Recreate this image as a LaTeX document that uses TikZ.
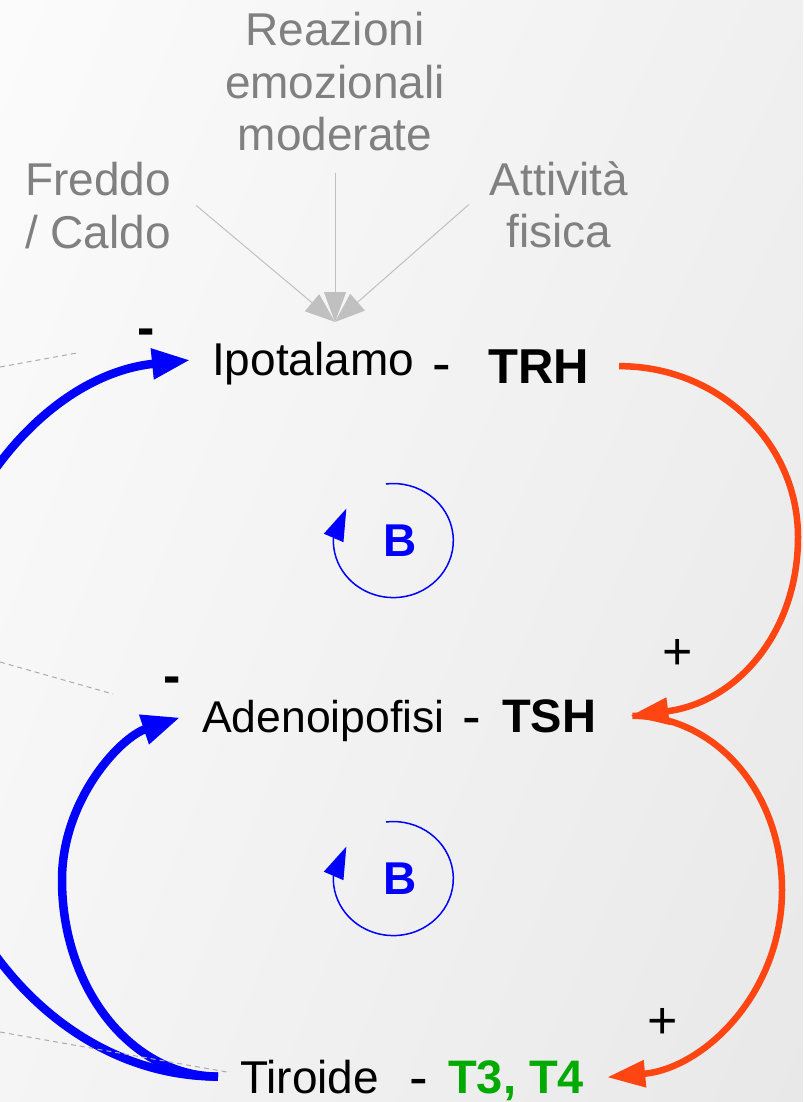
\documentclass[tikz,border=0pt]{standalone}
\usepackage{fontspec}
\setmainfont{Liberation Sans}
\usetikzlibrary{arrows.meta,shadings}

\definecolor{negblue}{RGB}{0,0,255}
\definecolor{posred}{RGB}{255,69,17}
\definecolor{hormgreen}{RGB}{0,170,0}
\definecolor{cuegray}{RGB}{128,128,128}
\definecolor{cueline}{RGB}{192,192,192}

\begin{document}
\begin{tikzpicture}[x=1pt,y=-1pt]
			\tikzstyle{txt}=[inner sep=0pt,font=\fontsize{46}{52.5}\selectfont]
			\tikzstyle{gland}=[txt,anchor=base west]
			\tikzstyle{hormone}=[txt,anchor=base west,font=\fontsize{47}{52.5}\selectfont\bfseries]
			\tikzstyle{joiner}=[txt,anchor=base west,font=\fontsize{56}{56}\selectfont]
			\tikzstyle{cue}=[txt,align=center,anchor=north,text=cuegray]
			\tikzstyle{sign}=[inner sep=0pt,anchor=base,font=\fontsize{52}{56}\selectfont]
			\tikzstyle{loopmark}=[txt,text=negblue,font=\fontsize{46}{52}\selectfont\bfseries]
			\tikzstyle{inhib}=[draw=negblue,line width=8.5pt,-{Triangle[length=38pt,width=29pt]}]
			\tikzstyle{stim}=[draw=posred,line width=6.5pt,-{Triangle[length=38pt,width=26pt]}]
			\tikzstyle{cuearrow}=[draw=cueline,line width=1pt,-{Triangle[length=30pt,width=22pt]}]
			\tikzstyle{loopline}=[draw=negblue,line width=1.5pt,-{Triangle[length=32pt,width=21pt]}]
			\tikzstyle{trail}=[draw=gray!65,line width=1pt,dash pattern=on 5pt off 4pt]
				\useasboundingbox (0,0) rectangle (803,1102);
				\clip (0,0) rectangle (803,1102);
				\shade[upper left=gray!3,upper right=gray!12,lower left=gray!8,lower right=gray!18] (0,0) rectangle (803,1102);
				\node[cue](emo) at (335,12){Reazioni\\emozionali\\moderate};
				\node[cue](temp) at (98,162){Freddo\\/ Caldo};
				\node[cue](sport) at (559,161){Attività\\fisica};
				\node[gland](ipo) at (212,375){Ipotalamo};
				\node[joiner](dash1) at (432.5,382){-};
				\node[hormone,font=\fontsize{49}{52.5}\selectfont\bfseries](trh) at (488,383){TRH};
				\node[gland,font=\fontsize{44.5}{52.5}\selectfont](adeno) at (202,732){Adenoipofisi};
				\node[joiner](dash2) at (462.5,735){-};
				\node[hormone](tsh) at (502,732){TSH};
				\node[gland](tiro) at (240,1093){Tiroide};
				\node[joiner](dash3) at (409.5,1096){-};
				\node[hormone,text=hormgreen](t34) at (448,1093){T3, T4};
				\node[sign](m1) at (146,345){\bfseries -};
				\node[sign](m2) at (172,693){\bfseries -};
				\node[sign](p1) at (678,669){+};
				\node[sign](p2) at (663,1038){+};
				\node[loopmark](b1) at (400,541){B};
				\node[loopmark](b2) at (400,879){B};
				\coordinate (hypin) at (335,322);
				\coordinate (farleft) at (-80,715);
				\coordinate (midleft) at (62,880);
				\coordinate (farright1) at (798,537);
				\coordinate (farright2) at (782,890);
				\coordinate (tr1a) at (0,367);
				\coordinate (tr1b) at (77,353);
				\coordinate (tr2a) at (0,662);
				\coordinate (tr2b) at (113,694);
				\coordinate (tr3a) at (0,1032);
				\coordinate (tr3b) at (227,1072);
				\draw[cuearrow] ([yshift=-22pt]emo.south) -- (hypin);
				\draw[cuearrow] ([xshift=25pt]temp.east) -- (hypin);
				\draw[cuearrow] ([xshift=-21pt]sport.west) -- (hypin);
				\draw[stim] ([xshift=30pt]trh.east) .. controls +(100,0) and +(0,-94) .. (farright1) .. controls +(0,97) and +(105,-13) .. ([xshift=34pt]tsh.east);
				\draw[stim] ([xshift=36pt]tsh.east) .. controls +(83,0) and +(0,-98) .. (farright2) .. controls +(0,103) and +(97,-9) .. ([xshift=23pt,yshift=3pt]t34.east);
				\draw[inhib] ([xshift=-22pt]tiro.west) .. controls +(-164,0) and +(0,200) .. (farleft) .. controls +(0,-197) and +(-149,15) .. ([xshift=-22pt,yshift=3pt]ipo.west);
				\draw[inhib] ([xshift=-22pt]tiro.west) .. controls +(-86,0) and +(0,109) .. (midleft) .. controls +(0,-80) and +(-60,20) .. ([xshift=-22pt,yshift=3pt]adeno.west);
				\draw[loopline] ([shift={(-14,-57)}]b1.center) arc[start angle=-97,end angle=182,x radius=60,y radius=57] -- ++(13,-30);
				\draw[loopline] ([shift={(-14,-57)}]b2.center) arc[start angle=-97,end angle=182,x radius=60,y radius=57] -- ++(13,-30);
				\draw[trail] (tr1a) -- (tr1b);
				\draw[trail] (tr2a) -- (tr2b);
				\draw[trail] (tr3a) -- (tr3b);
\end{tikzpicture}
\end{document}
